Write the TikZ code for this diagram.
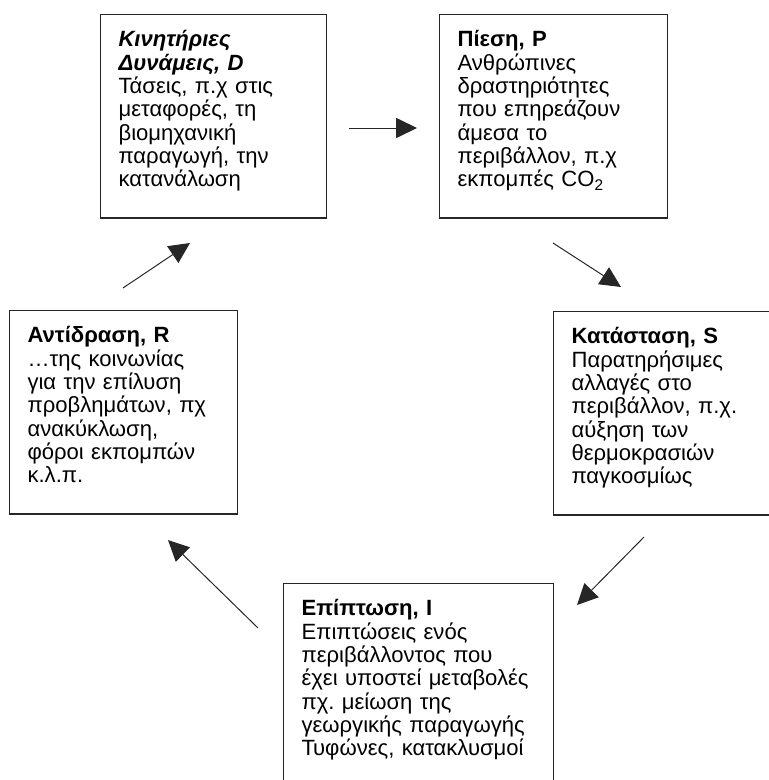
\documentclass[tikz,border=0pt]{standalone}
\usepackage{fontspec}
\setmainfont{Liberation Sans}
\frenchspacing
\usetikzlibrary{arrows.meta}
\usetikzlibrary{positioning}

% extra room under the last line of a box
\newcommand{\boxfoot}{\rule[-0.38cm]{0pt}{0pt}}

\begin{document}
\begin{tikzpicture}[scale=1,
  box/.style={draw=black!85, line width=0.8pt, anchor=north west, align=left,
    inner xsep=0.45cm, inner ysep=0.4cm,
    font=\fontsize{15.7pt}{16.6pt}\selectfont},
  arr/.style={draw=black!85, line width=0.7pt, -{Triangle[length=0.52cm,width=0.5cm]}}]

\useasboundingbox (0,0) rectangle (19.225,-19.5);

% boxes
\node[box, text width=4.75cm] (D) at (2.5,-0.35)
  {\textbf{\textit{Κινητήριες Δυνάμεις, D}}\\Τάσεις, π.χ στις\\μεταφορές, τη\\βιομηχανική\\παραγωγή, την\\κατανάλωση\boxfoot};
\node[box, text width=4.8cm] (P) at (10.975,-0.35)
  {\textbf{Πίεση, P}\\Ανθρώπινες\\δραστηριότητες\\που επηρεάζουν\\άμεσα το\\περιβάλλον, π.χ\\εκπομπές CO\textsubscript{2}\boxfoot};
\node[box, text width=4.8cm] (S) at (13.825,-7.775)
  {\textbf{Κατάσταση, S}\\Παρατηρήσιμες\\αλλαγές στο\\περιβάλλον, π.χ.\\αύξηση των\\θερμοκρασιών\\παγκοσμίως\boxfoot};
\node[box, text width=5.85cm] (I) at (7.075,-14.575)
  {\textbf{Επίπτωση, I}\\Επιπτώσεις ενός\\περιβάλλοντος που\\έχει υποστεί μεταβολές\\πχ. μείωση της\\γεωργικής παραγωγής\\Τυφώνες, κατακλυσμοί\boxfoot};
\node[box, text width=4.8cm] (R) at (0.225,-7.75)
  {\textbf{Αντίδραση, R}\\…της κοινωνίας\\για την επίλυση\\προβλημάτων, πχ\\ανακύκλωση,\\φόροι εκπομπών\\κ.λ.π.\boxfoot};

% arrow ends
\coordinate (dp1) at (8.725,-3.2);   \coordinate (dp2) at (10.425,-3.2);
\coordinate (ps1) at (13.825,-6.075); \coordinate (ps2) at (15.525,-7.175);
\coordinate (si1) at (16.1,-13.425);  \coordinate (si2) at (14.425,-15.125);
\coordinate (ir1) at (6.45,-15.7);    \coordinate (ir2) at (4.2,-13.5);
\coordinate (rd1) at (3.075,-7.2);    \coordinate (rd2) at (4.75,-6.075);

% arrows
\draw[arr] (dp1) -- (dp2);
\draw[arr] (ps1) -- (ps2);
\draw[arr] (si1) -- (si2);
\draw[arr] (ir1) -- (ir2);
\draw[arr] (rd1) -- (rd2);
\end{tikzpicture}
\end{document}
